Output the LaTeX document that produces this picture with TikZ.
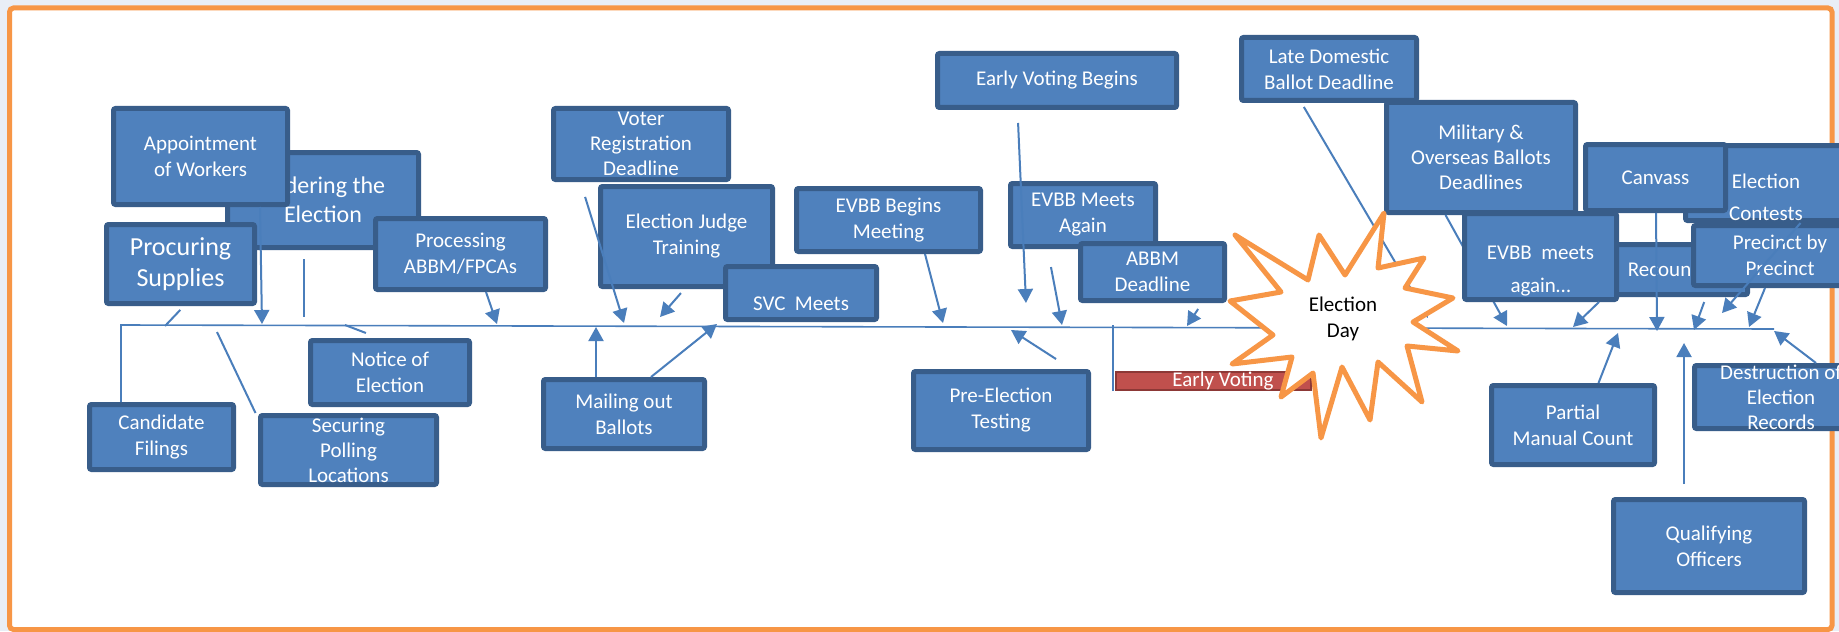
\documentclass[tikz,border=0pt]{standalone}
\usepackage{fontspec}
\setmainfont{Carlito}
\usetikzlibrary{arrows.meta}
\definecolor{stagefill}{HTML}{4F81BD}
\definecolor{stageline}{HTML}{385D8A}
\definecolor{linkblue}{HTML}{4A7EBB}
\definecolor{burst}{HTML}{F79646}
\definecolor{barfill}{HTML}{C0504D}
\definecolor{barline}{HTML}{8C3836}
\definecolor{pagebg}{HTML}{E9EEF6}
\begin{document}
\begin{tikzpicture}[x=0.5pt,y=-0.5pt,
    stage/.style={draw=stageline, fill=stagefill, line width=2.5pt, rounded corners=1pt,
      inner sep=0pt, text=white, align=center, font=\fontsize{10.5}{13}\selectfont},
    votebar/.style={draw=barline, fill=barfill, line width=1pt, inner sep=0pt,
      text=white, font=\fontsize{10.5}{13}\selectfont},
    conn/.style={color=linkblue, line width=1pt, -{Triangle[length=7pt,width=7.5pt]}},
    link/.style={color=linkblue, line width=1pt},
    axis/.style={draw=linkblue, line width=0.8pt}]
    \useasboundingbox (0,0) rectangle (1839,631);
    \clip (0,0) rectangle (1839,631);
    \fill[pagebg] (0,0) rectangle (1839,631);
    \draw[burst, line width=2.5pt, fill=white, rounded corners=2pt] (9.5,8) rectangle (1832,629.5);

    \node[stage, minimum width=95.5pt, minimum height=47.5pt, font=\fontsize{12}{14.5}\selectfont] (ordering) at (323,200) {Ordering the\\Election};
    \node[stage, minimum width=87pt, minimum height=48pt] (appoint) at (200.5,156.5) {Appointment\\of Workers};
    \node[stage, minimum width=74pt, minimum height=39.5pt, font=\fontsize{13}{15.5}\selectfont] (procure) at (180.5,264) {Procuring\\Supplies};
    \node[stage, minimum width=85pt, minimum height=35.5pt] (process) at (460.5,254) {Processing\\ABBM/FPCAs};
    \node[stage, minimum width=79.5pt, minimum height=32pt] (notice) at (390,372.5) {Notice of\\Election};
    \node[stage, minimum width=72pt, minimum height=32.5pt] (candidate) at (161.5,437) {Candidate\\Filings};
    \node[stage, minimum width=88pt, minimum height=34.5pt, inner ysep=-1pt, font=\fontsize{10.5}{12.5}\selectfont] (securing) at (348.5,450) {Securing\\Polling\\Locations};
    \node[stage, minimum width=87.5pt, minimum height=35.5pt, inner ysep=-1pt, font=\fontsize{10.5}{12.5}\selectfont] (voter) at (641,144) {Voter\\Registration\\Deadline};
    \node[stage, minimum width=86pt, minimum height=50pt] (judge) at (686.5,236.5) {Election Judge\\Training};
    \node[stage, minimum width=75.5pt, minimum height=26.5pt] (svc) at (801,293) {\rule{0pt}{18pt}SVC\ \ Meets};
    \node[stage, minimum width=80.5pt, minimum height=34.5pt] (mailing) at (624,414) {Mailing out\\Ballots};
    \node[stage, minimum width=92pt, minimum height=31.5pt] (evbbbegin) at (888.5,220) {EVBB Begins\\Meeting};
    \node[stage, minimum width=119.5pt, minimum height=27pt] (evbegins) at (1057,80.5) {Early Voting Begins};
    \node[stage, minimum width=72.5pt, minimum height=31.5pt] (evbbagain) at (1083,215) {EVBB Meets\\Again};
    \node[stage, minimum width=72pt, minimum height=28.5pt] (abbm) at (1152.5,272) {ABBM\\Deadline};
    \node[stage, minimum width=87.5pt, minimum height=39pt] (pretest) at (1001,410.5) {Pre-Election\\Testing};
    \node[stage, minimum width=87.5pt, minimum height=31.5pt] (late) at (1329,69) {Late Domestic\\Ballot Deadline};
    \node[stage, minimum width=94.5pt, minimum height=55pt, font=\fontsize{10.5}{12.5}\selectfont] (military) at (1481,157.5) {Military \&\\Overseas Ballots\\Deadlines};

    \coordinate (tStart) at (121,325);
    \coordinate (tEnd) at (1774,329);
    \draw[axis] (candidate.north -| tStart) -- (tStart) -- (tEnd);
    \node[votebar, minimum width=97.5pt, minimum height=9pt, inner ysep=-1pt] (evbar) at (1213.5,381) {\hspace*{9.5pt}Early Voting};
    \coordinate (evfoot) at ([xshift=-1pt]evbar.south west);
    \draw[axis] (evfoot) -- (evfoot |- tStart);

    \coordinate (pProcure) at (165,326);
    \coordinate (pAppoint) at (262,324);
    \coordinate (pOrdering) at (304,317);
    \coordinate (pNotice) at (345,325);
    \coordinate (pSecuring) at (217,332);
    \coordinate (pProcess) at (497,324);
    \coordinate (pVoter) at (624,323);
    \coordinate (pJudge) at (660,317);
    \coordinate (pMailA) at (596,327);
    \coordinate (pMailB) at (717,324);
    \coordinate (pEvbbBegin) at (943,323);
    \coordinate (pEvBegins) at (1026,303);
    \coordinate (pEvbbAgain) at (1062,325);
    \coordinate (pAbbm) at (1187,326);
    \coordinate (pPretest) at (1011,330);
    \coordinate (pLate) at (1428,318);
    \coordinate (pMilitary) at (1507,326);
    \coordinate (pEvbbMeets) at (1573,327);
    \coordinate (pCanvass) at (1657,331);
    \coordinate (pRecount) at (1694,330);
    \coordinate (pContests) at (1722,313);
    \coordinate (pPrecinct) at (1749,327);
    \coordinate (pPartial) at (1618,333);
    \coordinate (pQualify) at (1684,343);
    \coordinate (pDestruct) at (1774,331);

    \path[conn]%
      (military.south -| 1445.5,0) edge (pMilitary)
      (late.south -| 1301.5,0) edge[shorten <=2.3pt] (pLate);

    \draw[draw=burst, line width=2.5pt, line join=round, fill=white]
      (1235,235) -- (1308,280) -- (1319,235) -- (1345,275) -- (1384,213) -- (1378,268)
      -- (1424,258) -- (1405,288) -- (1453,298) -- (1413,322) -- (1458,351) -- (1407,346)
      -- (1422,402) -- (1378,362) -- (1370,420) -- (1342,367) -- (1321,438) -- (1313,373)
      -- (1281,397) -- (1292,357) -- (1232,364) -- (1273,335) -- (1230,301) -- (1281,292) -- cycle;
    \node[align=center, font=\fontsize{10.5}{13}\selectfont] (eday) at (1343,319) {Election\\Day};

    \node[stage, minimum width=80.5pt, minimum height=37.5pt, inner ysep=-1pt] (contests) at (1766,183) {\rule{0pt}{21.5pt}Election\\[3pt]Contests};
    \node[stage, minimum width=70pt, minimum height=33pt] (canvass) at (1655.5,177.5) {Canvass};
    \node[stage, minimum width=84.5pt, minimum height=25pt] (recount) at (1663,269.5) {Recount};
    \node[stage, minimum width=76pt, minimum height=43pt] (evbbmeets) at (1540.5,256.5) {\rule{0pt}{21.5pt}EVBB\ \ meets\\[3.5pt]again…};
    \node[stage, minimum width=86.5pt, minimum height=30pt] (precinct) at (1780,255.5) {Precinct by\\Precinct};
    \node[stage, minimum width=81.5pt, minimum height=39.5pt] (partial) at (1573,425) {Partial\\Manual Count};
    \node[stage, minimum width=95.5pt, minimum height=46.5pt] (qualify) at (1709,546) {Qualifying\\Officers};
    \node[stage, minimum width=86.5pt, minimum height=31.5pt, inner ysep=-2pt, font=\fontsize{10.5}{12.5}\selectfont] (destruct) at (1781,397) {Destruction of\\Election\\Records};

    \path[link]%
      (procure.south -| 184,0) edge[shorten <=2.7pt] (pProcure)
      (ordering.south -| 304,0) edge[shorten <=4.5pt] (pOrdering)
      (notice.north -| 379,0) edge[shorten <=7pt] (pNotice)
      (securing.north -| 255.5,0) edge (pSecuring);
    \path[conn]%
      (appoint.south -| 260,0) edge (pAppoint)
      (process.south -| 486,0) edge (pProcess)
      (voter.south -| 580.5,0) edge[shorten <=7.8pt] (pVoter)
      (judge.south -| 684.5,0) edge[shorten <=2.7pt] (pJudge)
      (mailing.north -| 596,0) edge (pMailA)
      (mailing.north -| 651,0) edge (pMailB)
      (evbbbegin.south -| 925,0) edge (pEvbbBegin)
      (evbegins.south -| 1017.5,0) edge[shorten <=6.5pt] (pEvBegins)
      (evbbagain.south -| 1047.5,0) edge[shorten <=9.2pt] (pEvbbAgain)
      (abbm.south -| 1202,0) edge[shorten <=3.6pt] (pAbbm)
      (pretest.north -| 1071.5,0) edge[shorten <=9.2pt] (pPretest)
      (evbbmeets.south -| 1599,0) edge (pEvbbMeets)
      (canvass.south -| 1656,0) edge (pCanvass)
      (recount.south -| 1706,0) edge[shorten <=2.7pt] (pRecount)
      (contests.south -| 1800.5,0) edge (pContests)
      (precinct.south -| 1765,0) edge (pPrecinct)
      (partial.north -| 1598.5,0) edge (pPartial)
      (qualify.north -| 1684,0) edge[shorten <=6.5pt] (pQualify)
      (destruct.north -| 1816,0) edge (pDestruct);
\end{tikzpicture}
\end{document}
